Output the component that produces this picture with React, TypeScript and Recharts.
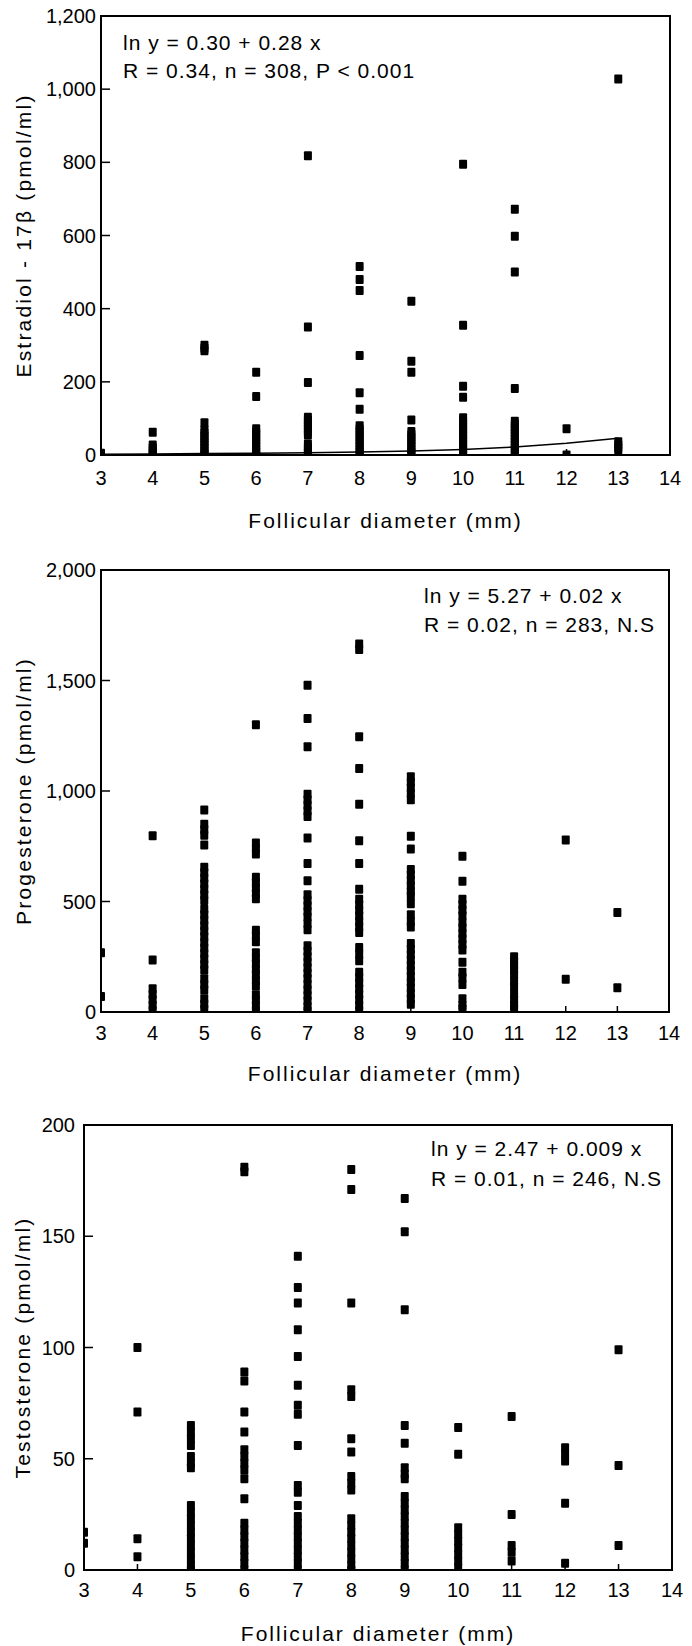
import { ReferenceArea, Scatter, ScatterChart, XAxis, YAxis } from "recharts";

const FONT = '"Liberation Sans", Arial, sans-serif';

// follicle diameter groups (mm) and axis ticks
const diameters = [3, 4, 5, 6, 7, 8, 9, 10, 11, 12, 13];
const xTicks = [3, 4, 5, 6, 7, 8, 9, 10, 11, 12, 13, 14];

const estradiolTicks = [0, 200, 400, 600, 800, 1000, 1200];
const progesteroneTicks = [0, 500, 1000, 1500, 2000];
const testosteroneTicks = [0, 50, 100, 150, 200];

// one list of readings per diameter, 3 mm .. 13 mm
const estradiol: number[][] = [
  [5],
  [62, 27, 20, 13, 6, 0],
  [300, 292, 285, 88, 68, 60, 52, 44, 36, 28, 20, 12, 5, 0],
  [226, 160, 72, 64, 56, 48, 40, 32, 24, 16, 8, 0],
  [818, 350, 198, 103, 95, 87, 79, 71, 63, 55, 30, 22, 14, 6, 0],
  [515, 480, 450, 272, 170, 125, 80, 72, 64, 56, 48, 40, 32, 24, 16, 8, 0],
  [420, 256, 226, 96, 64, 56, 48, 40, 32, 24, 16, 8, 0],
  [795, 355, 188, 158, 102, 94, 86, 78, 70, 62, 54, 46, 38, 30, 22, 14, 6, 0],
  [672, 598, 500, 182, 92, 84, 76, 68, 60, 52, 44, 36, 28, 20, 12, 4],
  [72, 0],
  [1028, 36, 28, 20, 12],
];

// regression curve ln y = 0.30 + 0.28 x
const estradiolFit = [2, 3, 4, 5, 6, 8, 11, 15, 22, 32, 46];

const progesterone: number[][] = [
  [268, 70],
  [797, 235, 105, 80, 55, 30, 8],
  [914, 850, 825, 800, 756, 655, 630, 605, 580, 555, 530, 505, 465, 440, 415, 390, 365, 340, 315, 290, 265, 240, 215, 190, 150, 125, 100, 60, 35, 12],
  [1300, 765, 740, 715, 610, 585, 560, 535, 512, 370, 345, 318, 268, 243, 218, 193, 168, 143, 118, 78, 53, 28, 5],
  [1478, 1328, 1200, 985, 960, 935, 910, 885, 787, 672, 594, 530, 505, 480, 455, 430, 400, 372, 300, 275, 250, 225, 200, 175, 150, 125, 100, 75, 50, 25, 5],
  [1665, 1640, 1245, 1102, 940, 775, 672, 555, 510, 485, 460, 435, 410, 385, 360, 292, 262, 232, 180, 155, 130, 105, 80, 55, 30, 5],
  [1065, 1040, 1015, 990, 960, 795, 737, 645, 620, 595, 570, 545, 525, 490, 440, 410, 385, 310, 285, 260, 235, 210, 185, 160, 135, 110, 85, 60, 35],
  [705, 592, 510, 485, 460, 435, 405, 380, 355, 330, 305, 280, 225, 180, 155, 125, 60, 30, 15],
  [250, 230, 210, 190, 170, 140, 115, 80, 55, 30, 15],
  [778, 148],
  [450, 110],
];

const testosterone: number[][] = [
  [17, 12],
  [100, 71, 14, 6],
  [65, 62, 59, 56, 51, 48, 46, 29, 26, 23, 20, 17, 14, 11, 8, 5, 2, 0],
  [181, 179, 89, 85, 71, 62, 54, 51, 48, 45, 41, 32, 21, 18, 15, 12, 9, 6, 3, 0],
  [141, 127, 120, 108, 96, 83, 74, 70, 56, 38, 35, 29, 24, 21, 18, 15, 12, 9, 6, 3, 0],
  [180, 171, 120, 81, 78, 59, 53, 42, 39, 36, 23, 20, 17, 14, 11, 8, 5, 2, 0],
  [167, 152, 117, 65, 57, 46, 43, 41, 33, 30, 27, 24, 21, 18, 15, 12, 9, 6, 3, 0],
  [64, 52, 19, 16, 13, 10, 7, 4, 1],
  [69, 25, 11, 8, 4],
  [55, 52, 49, 30, 3],
  [99, 47, 11],
];

type Pt = { x: number; y: number };

const toPoints = (cols: number[][]): Pt[] =>
  diameters.flatMap((d, i) => cols[i].map((v) => ({ x: d, y: v })));

function Marker(props: any) {
  const { cx, cy } = props;
  if (cx == null || cy == null) return <g />;
  return <rect x={cx - 4} y={cy - 4.5} width={8} height={9} rx={1} fill="#000" />;
}

type PanelProps = {
  top: number;
  height: number;
  marginTop: number;
  marginRight: number;
  yAxisWidth: number;
  xAxisHeight: number;
  yMax: number;
  yTicks: number[];
  yLabel: string;
  yLabelOffset: number;
  yTickMargin: number;
  xTickMargin: number;
  xLabelOffset: number;
  points: Pt[];
  fit?: Pt[];
  note: string[];
  noteLeft: number;
  noteTop: number;
  noteLine: number;
};

function Panel(p: PanelProps) {
  const tickStyle = { fill: "#000", fontSize: 20, fontFamily: FONT };
  return (
    <div style={{ position: "absolute", left: 0, top: p.top, width: 692, height: p.height }}>
      <ScatterChart
        width={692}
        height={p.height}
        margin={{ top: p.marginTop, right: p.marginRight, bottom: 0, left: 0 }}
      >
        <XAxis
          type="number"
          dataKey="x"
          domain={[3, 14]}
          ticks={xTicks}
          interval={0}
          allowDataOverflow
          height={p.xAxisHeight}
          tick={tickStyle}
          tickSize={-6}
          tickMargin={p.xTickMargin}
          axisLine={{ stroke: "#000", strokeWidth: 2 }}
          tickLine={{ stroke: "#000", strokeWidth: 1.5 }}
          label={{
            value: "Follicular diameter (mm)",
            position: "insideBottom",
            offset: p.xLabelOffset,
            fill: "#000",
            fontSize: 21,
            fontFamily: FONT,
            style: { letterSpacing: 2 },
          }}
        />
        <YAxis
          type="number"
          dataKey="y"
          domain={[0, p.yMax]}
          ticks={p.yTicks}
          interval={0}
          allowDataOverflow
          width={p.yAxisWidth}
          tick={tickStyle}
          tickSize={-9}
          tickMargin={p.yTickMargin}
          tickFormatter={(v: number) => v.toLocaleString("en-US")}
          axisLine={{ stroke: "#000", strokeWidth: 2 }}
          tickLine={{ stroke: "#000", strokeWidth: 1.5 }}
          label={{
            value: p.yLabel,
            angle: -90,
            position: "insideLeft",
            offset: p.yLabelOffset,
            fill: "#000",
            fontSize: 21,
            fontFamily: FONT,
            style: { textAnchor: "middle", letterSpacing: 2.2 },
          }}
        />
        <ReferenceArea x1={3} x2={14} y1={0} y2={p.yMax} fill="none" stroke="#000" strokeWidth={2} />
        <Scatter data={p.points} shape={Marker} isAnimationActive={false} />
        {p.fit && (
          <Scatter
            data={p.fit}
            line={{ stroke: "#000", strokeWidth: 1.5 }}
            shape={() => <g />}
            isAnimationActive={false}
          />
        )}
      </ScatterChart>
      <div
        style={{
          position: "absolute",
          left: p.noteLeft,
          top: p.noteTop,
          fontFamily: FONT,
          fontSize: 21,
          lineHeight: `${p.noteLine}px`,
          letterSpacing: 1,
          color: "#000",
          whiteSpace: "nowrap",
        }}
      >
        {p.note.map((t) => (
          <div key={t}>{t}</div>
        ))}
      </div>
    </div>
  );
}

export default function App() {
  const fit = diameters.map((d, i) => ({ x: d, y: estradiolFit[i] }));
  return (
    <div
      style={{
        position: "absolute",
        left: 0,
        top: 0,
        width: 692,
        height: 1646,
        background: "#fff",
        overflow: "hidden",
      }}
    >
      <Panel
        top={0}
        height={545}
        marginTop={16}
        marginRight={22}
        yAxisWidth={101}
        xAxisHeight={90}
        yMax={1200}
        yTicks={estradiolTicks}
        yLabel="Estradiol - 17β (pmol/ml)"
        yLabelOffset={24}
        yTickMargin={14}
        xTickMargin={22}
        xLabelOffset={17.5}
        points={toPoints(estradiol)}
        fit={fit}
        note={["ln y = 0.30 + 0.28 x", "R = 0.34, n = 308, P < 0.001"]}
        noteLeft={123}
        noteTop={29}
        noteLine={28}
      />
      <Panel
        top={545}
        height={555}
        marginTop={25}
        marginRight={23}
        yAxisWidth={101}
        xAxisHeight={88}
        yMax={2000}
        yTicks={progesteroneTicks}
        yLabel="Progesterone (pmol/ml)"
        yLabelOffset={24}
        yTickMargin={14}
        xTickMargin={20}
        xLabelOffset={19.5}
        points={toPoints(progesterone)}
        note={["ln y = 5.27 + 0.02 x", "R = 0.02, n = 283, N.S"]}
        noteLeft={424}
        noteTop={36}
        noteLine={29}
      />
      <Panel
        top={1100}
        height={546}
        marginTop={25}
        marginRight={20}
        yAxisWidth={84}
        xAxisHeight={76}
        yMax={200}
        yTicks={testosteroneTicks}
        yLabel="Testosterone (pmol/ml)"
        yLabelOffset={23}
        yTickMargin={18}
        xTickMargin={19}
        xLabelOffset={5.5}
        points={toPoints(testosterone)}
        note={["ln y = 2.47 + 0.009 x", "R = 0.01, n = 246, N.S"]}
        noteLeft={431}
        noteTop={34}
        noteLine={30}
      />
    </div>
  );
}
